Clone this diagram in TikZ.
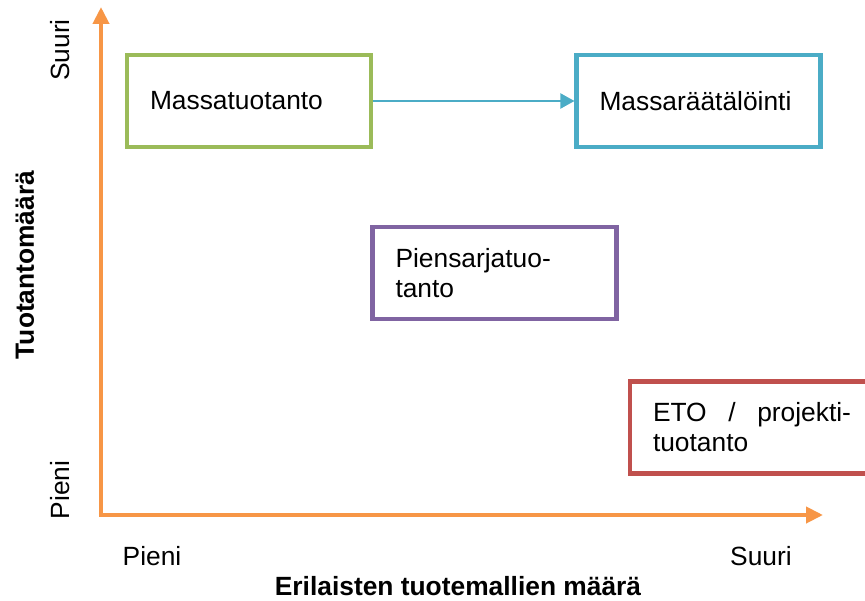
\documentclass[tikz,border=0pt]{standalone}
\usepackage{fontspec}
\setmainfont{Liberation Sans}
\usetikzlibrary{arrows.meta}
\definecolor{axisorange}{HTML}{F79646}
\definecolor{massgreen}{HTML}{9BBB59}
\definecolor{custblue}{HTML}{4BACC6}
\definecolor{smallpurple}{HTML}{8064A2}
\definecolor{etored}{HTML}{C0504D}

\begin{document}
\begin{tikzpicture}[
    font=\fontsize{15}{17}\selectfont,
    typebox/.style={draw, line width=2.3pt, minimum width=4.88cm, minimum height=1.84cm,
        inner xsep=0.46cm, text width=3.96cm, align=left},
    axisline/.style={line width=2.3pt, axisorange, -{Triangle[length=0.34cm, width=0.32cm]}}
  ]
                \useasboundingbox (0,0) rectangle (17.3,12);
                \coordinate (origin) at (2.02,1.70);
                \coordinate (ytop) at (2.02,11.86);
                \coordinate (xend) at (16.46,1.70);
                \draw[axisline] (origin) -- (ytop);
                \draw[axisline] ([xshift=-1.15pt]origin) -- (xend);
                % production types
                \node[typebox, massgreen] (mass) at (4.98,9.98) {\color{black}Massatuotanto};
                \node[typebox, custblue] (custom) at (13.97,9.98) {\color{black}Massaräätälöinti};
                \node[typebox, smallpurple] (small) at (9.89,6.54) {\color{black}Piensarjatuo-\\tanto};
                \node[typebox, etored, align=justify] (eto) at (15.04,3.45)
                    {\color{black}ETO / projekti-\linebreak tuotanto};
                \draw[line width=1.1pt, custblue, -{Triangle[length=0.28cm, width=0.3cm]}] (mass) -- (custom);
                % axis labels
                \node[rotate=90] (ysuuri) at (1.2,11.0) {Suuri};
                \node[rotate=90] (ypieni) at (1.2,2.2) {Pieni};
                \node[rotate=90, font=\fontsize{15}{17}\selectfont\bfseries] (ytitle) at (0.5,6.7) {Tuotantomäärä};
                \node (xpieni) at (3.04,0.88) {Pieni};
                \node (xsuuri) at (15.22,0.88) {Suuri};
                \node[font=\fontsize{15}{17}\selectfont\bfseries] (xtitle) at (9.16,0.28) {Erilaisten tuotemallien määrä};
            \end{tikzpicture}
\end{document}
